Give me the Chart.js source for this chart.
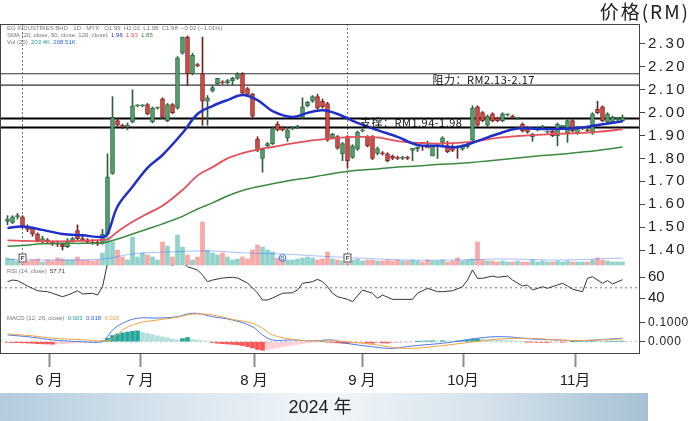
<!DOCTYPE html>
<html>
<head>
<meta charset="utf-8">
<script src="https://cdn.jsdelivr.net/npm/chart.js"></script>
<style>
  html, body { margin: 0; padding: 0; background: #fff; }
  #wrap { position: relative; width: 690px; height: 421px; }
  #band { position: absolute; left: 0; top: 393px; width: 648px; height: 28px;
          background: linear-gradient(to right, #b3cbdd 0%, #d6e3ed 25%, #f2f6f9 50%, #d5e2ec 75%, #a6c0d3 100%); }
  #c { position: absolute; left: 0; top: 0; }
</style>
</head>
<body>
<div id="wrap"><div id="band"></div><canvas id="c" width="690" height="421"></canvas></div>
<script>
// daily candles, index 0 = late May 2024
const opens = [
  1.525,1.52,1.545,1.545,1.50,1.495,1.47,1.435,1.445,1.435,
  1.43,1.425,1.415,1.44,1.485,1.45,1.445,1.435,1.435,1.43,
  1.47,1.735,1.965,1.945,1.94,1.96,2.03,2.03,2.035,1.96,
  2.02,2.06,1.965,2.035,2.02,2.26,2.33,2.17,2.21,2.17,
  2.05,2.095,2.125,2.135,2.13,2.14,2.15,2.17,2.105,2.08,
  1.885,1.80,1.855,1.865,1.95,1.935,1.89,1.93,1.935,1.98,
  2.03,2.05,2.07,2.05,2.04,1.89,1.895,1.82,1.895,1.805,
  1.84,1.92,1.895,1.895,1.822,1.825,1.82,1.81,1.805,1.80,
  1.805,1.835,1.84,1.87,1.85,1.81,1.855,1.87,1.855,1.85,
  1.85,1.84,1.85,1.88,2.025,2.00,1.945,1.995,1.975,1.965,
  1.99,1.985,1.975,1.95,1.935,1.895,1.925,1.935,1.915,1.92,
  1.90,1.94,1.91,1.965,1.91,1.93,1.925,1.91,2.015,2.025,
  1.96,1.96,1.975,1.965
];
const highs = [
  1.55,1.55,1.56,1.55,1.51,1.50,1.475,1.46,1.45,1.44,
  1.44,1.43,1.45,1.455,1.51,1.46,1.45,1.445,1.44,1.49,
  1.82,2.07,1.975,1.95,1.955,2.10,2.035,2.035,2.04,2.025,
  2.025,2.065,2.04,2.04,2.245,2.33,2.335,2.26,2.215,2.33,
  2.075,2.12,2.15,2.14,2.145,2.155,2.175,2.175,2.11,2.085,
  1.895,1.845,1.87,1.94,1.96,1.94,1.935,1.94,1.945,2.065,
  2.05,2.075,2.08,2.06,2.045,1.91,1.90,1.87,1.90,1.86,
  1.92,1.93,1.90,1.90,1.85,1.83,1.825,1.815,1.81,1.81,
  1.81,1.84,1.85,1.855,1.875,1.855,1.86,1.895,1.875,1.86,
  1.855,1.86,1.865,2.03,2.03,2.005,1.99,2.00,1.98,2.00,
  1.995,1.99,1.98,1.955,1.94,1.91,1.935,1.945,1.92,1.925,
  1.955,1.945,1.97,1.97,1.94,1.935,1.93,2.00,2.05,2.03,
  2.00,1.985,1.98,1.99
];
const lows = [
  1.51,1.515,1.535,1.495,1.48,1.46,1.435,1.43,1.43,1.42,
  1.415,1.40,1.41,1.435,1.445,1.44,1.43,1.425,1.42,1.425,
  1.465,1.73,1.94,1.93,1.925,1.955,2.025,2.025,1.99,1.955,
  2.015,1.975,1.96,1.995,2.015,2.255,2.12,2.165,2.20,1.945,
  1.945,2.09,2.12,2.125,2.125,2.12,2.145,2.08,2.075,1.97,
  1.83,1.74,1.85,1.86,1.92,1.92,1.875,1.925,1.93,1.975,
  2.025,2.045,2.015,2.02,1.875,1.885,1.84,1.79,1.76,1.80,
  1.835,1.915,1.85,1.795,1.815,1.815,1.785,1.795,1.795,1.795,
  1.795,1.79,1.83,1.835,1.86,1.84,1.80,1.85,1.825,1.83,
  1.80,1.835,1.845,1.875,1.94,1.96,1.94,1.96,1.96,1.96,
  1.985,1.975,1.97,1.915,1.91,1.875,1.92,1.93,1.91,1.895,
  1.855,1.935,1.87,1.915,1.905,1.925,1.915,1.905,1.995,1.96,
  1.955,1.955,1.965,1.96
];
const closes = [
  1.535,1.545,1.55,1.50,1.49,1.47,1.44,1.45,1.435,1.43,
  1.425,1.415,1.44,1.45,1.45,1.445,1.435,1.43,1.425,1.47,
  1.72,1.98,1.945,1.94,1.945,2.03,2.03,2.03,1.995,2.02,
  2.02,1.98,2.035,2.00,2.24,2.33,2.17,2.25,2.205,2.05,
  2.065,2.11,2.15,2.13,2.14,2.15,2.17,2.085,2.08,1.985,
  1.835,1.84,1.865,1.93,1.925,1.925,1.925,1.935,1.935,2.025,
  2.045,2.07,2.02,2.025,1.88,1.905,1.845,1.865,1.79,1.855,
  1.915,1.925,1.855,1.80,1.843,1.82,1.79,1.80,1.80,1.805,
  1.80,1.845,1.85,1.865,1.845,1.855,1.855,1.89,1.83,1.835,
  1.848,1.855,1.86,2.02,1.945,1.965,1.985,1.965,1.965,1.995,
  1.99,1.98,1.975,1.92,1.915,1.905,1.93,1.94,1.915,1.90,
  1.95,1.94,1.965,1.92,1.935,1.93,1.92,1.995,2.00,1.965,
  1.995,1.98,1.975,1.98
];
// volume, thousand shares
const volumes = [
  210,180,120,150,120,150,180,90,150,120,
  210,180,150,150,240,150,150,120,150,360,
  840,690,450,240,150,840,240,360,300,240,
  150,690,570,240,900,540,300,150,240,1290,
  450,360,300,360,240,150,180,240,180,450,
  600,540,450,390,210,150,150,150,180,210,
  240,210,150,180,390,180,150,120,150,150,
  180,120,150,150,120,120,150,120,150,120,
  120,150,120,90,150,120,120,150,90,120,
  210,120,150,180,690,150,120,120,90,120,
  90,90,120,90,90,150,90,120,90,90,
  120,90,120,90,90,90,90,150,210,150,
  120,90,90,90
];
const volMaIdx = [0,10,19,25,32,40,48,55,62,70,80,90,100,110,123];
const volMa = [165,150,180,330,390,420,360,330,270,210,150,150,180,150,210];

// moving averages read at sample bars
const maIdx = [0,3,7,11,15,19,20,22,25,28,31,35,38,41,44,47,50,53,57,60,63,66,70,74,78,82,86,90,94,98,102,106,110,114,118,123];
const ma20 = [1.496,1.503,1.488,1.470,1.464,1.457,1.470,1.590,1.676,1.759,1.815,1.911,1.994,2.029,2.055,2.077,2.055,2.007,1.981,1.999,2.010,1.994,1.955,1.924,1.894,1.859,1.855,1.850,1.876,1.907,1.931,1.929,1.929,1.933,1.946,1.962];
const ma50 = [1.442,1.440,1.438,1.438,1.440,1.444,1.446,1.480,1.523,1.559,1.593,1.662,1.725,1.762,1.800,1.823,1.839,1.850,1.866,1.876,1.883,1.890,1.894,1.892,1.876,1.868,1.865,1.868,1.876,1.890,1.898,1.903,1.907,1.911,1.916,1.927];
const ma120 = [1.416,1.420,1.427,1.429,1.429,1.431,1.435,1.448,1.470,1.492,1.514,1.547,1.579,1.606,1.636,1.660,1.676,1.689,1.706,1.715,1.726,1.737,1.748,1.754,1.763,1.767,1.774,1.778,1.785,1.793,1.802,1.811,1.817,1.826,1.835,1.850];

const rsiIdx = [0,1,2,4,5,6,8,9,11,12,13,14,15,17,18,19,20,21,22,24,26,28,30,31,33,35,36,38,39,40,41,43,45,46,48,50,51,52,53,55,57,58,59,61,62,63,64,65,66,67,68,69,71,72,73,74,75,77,79,81,82,83,84,86,87,89,91,92,93,94,95,97,98,100,101,103,104,105,107,108,110,111,112,113,115,116,117,119,120,121,123];
const rsi = [55.8,57.4,56.8,51.7,49.5,47.2,46.3,44.8,41.5,43.1,45,47.2,44.1,44.8,43.1,51,73.3,78,84,83,86,82,80,73.6,71.7,74.6,70,67,62.2,55.8,57.4,59.3,60,59.3,54.6,45,38.4,38.4,40.3,44.8,45.3,47.9,54.3,55.8,58.1,55.8,51,44.8,41.5,40.3,39,36.8,47.9,46.3,44.8,40,43.1,39,39,39,44.8,47.2,49.5,46.3,46.3,47.2,51,57.4,67,59,59,61.2,60,61.2,57.4,51.7,52.7,47.9,51,49.5,52.7,54.3,51.7,48.6,46.3,59,60.6,54.3,56.8,53.6,57.7];

const macdIdx = [0,5,9,15,19,20,21,23,26,30,34,36,38,41,45,49,51,53,57,61,65,67,74,77,81,88,94,99,105,110,115,123];
const macdLine = [0.035,0.023,0.009,0.000,0.000,0.026,0.060,0.095,0.121,0.122,0.129,0.143,0.146,0.129,0.112,0.077,0.035,0.009,0.009,0.004,0.009,-0.005,-0.029,-0.034,-0.022,-0.005,0.018,0.026,0.014,0.009,0.006,0.018];
const signalLine = [0.040,0.030,0.018,0.010,0.003,0.006,0.015,0.060,0.095,0.112,0.126,0.138,0.143,0.138,0.115,0.095,0.069,0.035,0.012,0.004,0.005,0.002,-0.017,-0.029,-0.034,-0.017,0.002,0.015,0.017,0.009,0.006,0.015];
const macdHist = [
  -0.003,-0.004,-0.005,-0.006,-0.007,-0.008,-0.010,-0.011,-0.012,-0.013,
  -0.012,-0.010,-0.009,-0.007,-0.006,-0.005,-0.004,-0.003,-0.002,0.004,
  0.018,0.032,0.040,0.046,0.050,0.054,0.056,0.048,0.042,0.036,
  0.030,0.025,0.020,0.014,0.010,0.016,0.022,0.012,0.008,0.005,
  0.003,-0.004,-0.008,-0.010,-0.012,-0.014,-0.016,-0.020,-0.025,-0.032,
  -0.040,-0.044,-0.040,-0.035,-0.030,-0.026,-0.022,-0.018,-0.014,-0.010,
  -0.006,-0.003,-0.001,0.001,-0.002,-0.004,-0.006,-0.008,-0.010,-0.008,
  -0.006,-0.005,-0.006,-0.008,-0.006,-0.006,-0.007,-0.006,-0.005,-0.004,
  -0.003,-0.002,0.001,0.003,0.004,0.005,0.004,0.005,0.004,0.003,
  0.004,0.006,0.008,0.012,0.014,0.012,0.010,0.009,0.008,0.007,
  0.006,0.005,0.003,0.001,-0.001,-0.002,-0.003,-0.003,-0.004,-0.003,
  -0.002,-0.002,-0.001,0.001,0.002,0.003,0.004,0.004,0.003,0.002,
  0.003,0.003,0.003,0.003
];

const resistance = [2.12, 2.17];
const support = [1.935, 1.975];
const eventIdx = [3, 68];

const priceTicks = [1.4, 1.5, 1.6, 1.7, 1.8, 1.9, 2.0, 2.1, 2.2, 2.3];
const rsiTicks = [40, 60];
const macdTicks = [0, 0.1];
const macdTickLabels = ['0.000', '0.1000'];
const monthTicks = [8.3, 26.5, 49.3, 70.9, 91.1, 113.5];
const monthLabels = ['6 月', '7 月', '8 月', '9 月', '10月', '11月'];

// axis ranges
const xMin = -1.5, xMax = 126.5;
const priceMin = 1.3345, priceMax = 2.3873;
const rsiMin = 31.71, rsiMax = 71.71;
const macdMin = -0.0582, macdMax = 0.1789;
const volMin = -2640, volMax = 7230;

const CJK = '"Noto Sans CJK SC", sans-serif';
Chart.defaults.font.family = '"Liberation Sans", "Noto Sans CJK SC", sans-serif';
Chart.defaults.color = '#222';

const GREEN = '#54a06b', GREEN_EDGE = '#2b6840';
const RED = '#d44b46', RED_EDGE = '#7e2724';

const bars = closes.map((c, i) => i);
const up = closes.map((c, i) => c >= opens[i]);
const histColors = macdHist.map((v, i) => {
  const prev = i ? macdHist[i - 1] : 0;
  if (v >= 0) return v >= prev ? '#26a69a' : '#b2dfdb';
  return v <= prev ? '#ff5252' : '#ffcdd2';
});

const pts = (ix, vals) => ix.map((x, k) => ({ x: x, y: vals[k] }));
const flat = v => [{ x: xMin, y: v }, { x: xMax, y: v }];
const line = (data, axis, color, width, extra) => Object.assign({
  type: 'line', data: data, yAxisID: axis, borderColor: color, borderWidth: width,
  pointRadius: 0, fill: false
}, extra || {});

const datasets = [
  { type: 'bar', data: bars.map(i => ({ x: i, y: volumes[i] })), yAxisID: 'yVol', barThickness: 4,
    backgroundColor: up.map(u => u ? 'rgba(38,166,154,0.5)' : 'rgba(239,83,80,0.5)'), order: 20 },
  line(pts(volMaIdx, volMa), 'yVol', 'rgba(41,98,255,0.4)', 1, { tension: 0.4, order: 19 }),
  ...resistance.map(v => line(flat(v), 'y', '#333', 1.2, { order: 15 })),
  ...support.map(v => line(flat(v), 'y', '#000', 2, { order: 15 })),
  ...eventIdx.map(e => line([{ x: e, y: priceMax }, { x: e, y: priceMin }], 'y', '#777', 1, { borderDash: [2, 2], order: 15 })),
  { type: 'bar', data: bars.map(i => ({ x: i, y: [lows[i], highs[i]] })), yAxisID: 'y', barThickness: 1,
    backgroundColor: up.map(u => u ? '#2f5f3e' : '#6e2522'), order: 10 },
  { type: 'bar', data: bars.map(i => ({ x: i, y: [opens[i], closes[i]] })), yAxisID: 'y', barThickness: 4,
    backgroundColor: up.map(u => u ? GREEN : RED), borderColor: up.map(u => u ? GREEN_EDGE : RED_EDGE),
    borderWidth: 1, borderSkipped: false, minBarLength: 1, order: 9 },
  line(pts(maIdx, ma120), 'y', '#3b8a3f', 1.5, { tension: 0.35, order: 3 }),
  line(pts(maIdx, ma50), 'y', '#e4515b', 1.8, { tension: 0.35, order: 2 }),
  line(pts(maIdx, ma20), 'y', '#1f2fc8', 2.5, { tension: 0.35, order: 1 }),
  line(flat(50), 'yRsi', '#777', 1, { borderDash: [2, 3], order: 6 }),
  line(pts(rsiIdx, rsi), 'yRsi', '#333', 1, { order: 5, pane: 6 }),
  line(flat(0), 'yMacd', '#bbb', 1, { borderDash: [2, 3], order: 8 }),
  { type: 'bar', data: bars.map(i => ({ x: i, y: macdHist[i] })), yAxisID: 'yMacd', barThickness: 4,
    backgroundColor: histColors, order: 7 },
  line(pts(macdIdx, signalLine), 'yMacd', '#f3a043', 1, { tension: 0.4, order: 4 }),
  line(pts(macdIdx, macdLine), 'yMacd', '#4a78e8', 1, { tension: 0.4, order: 4 })
];

// clip a pane's series to its own stacked axis
const paneClip = {
  id: 'paneClip',
  beforeDatasetDraw(chart, args) {
    const ds = chart.data.datasets[args.index];
    if (ds.pane === undefined) return;
    const s = chart.scales[ds.yAxisID], a = chart.chartArea, ctx = chart.ctx;
    ctx.save();
    ctx.beginPath();
    ctx.rect(a.left, s.top - ds.pane, a.right - a.left, s.bottom - s.top + ds.pane);
    ctx.clip();
  },
  afterDatasetDraw(chart, args) {
    if (chart.data.datasets[args.index].pane !== undefined) chart.ctx.restore();
  }
};

// wider tracking on some labels (price ticks, macd ticks, title)
const tickSpacing = { y: '2.5px', yMacd: '0.7px' };
function spaced(chart, obj, method, spacing) {
  if (!obj || obj._spaced) return;
  const orig = obj[method].bind(obj);
  obj[method] = area => {
    chart.ctx.letterSpacing = spacing;
    orig(area);
    chart.ctx.letterSpacing = '0px';
  };
  obj._spaced = true;
}
const spacingPlugin = {
  id: 'spacing',
  beforeDraw(chart) {
    for (const id in tickSpacing) spaced(chart, chart.scales[id], 'drawLabels', tickSpacing[id]);
    spaced(chart, chart.titleBlock, 'draw', '2px');
  }
};

function runs(ctx, x, y, parts) {
  for (const p of parts) {
    ctx.fillStyle = p[1];
    ctx.fillText(p[0], x, y);
    x += ctx.measureText(p[0]).width;
  }
}

const overlay = {
  id: 'overlay',
  afterDraw(chart) {
    const ctx = chart.ctx, a = chart.chartArea;
    const xs = chart.scales.x, ys = chart.scales.y;
    ctx.save();
    ctx.strokeStyle = '#444';
    ctx.lineWidth = 1;
    ctx.strokeRect(a.left + 0.5, a.top + 0.5, a.right - a.left - 1, a.bottom - a.top);

    // indicator captions
    ctx.font = '6px "Liberation Sans", sans-serif';
    ctx.textBaseline = 'middle';
    runs(ctx, 7, 28, [['EG INDUSTRIES BHD · 1D · MYX   O1.99  H2.02  L1.95  C1.98  −0.02 (−1.01%)', '#777']]);
    runs(ctx, 7, 35, [['SMA (20, close, 50, close, 120, close)  ', '#777'], ['1.96  ', '#1f2fc8'], ['1.93  ', '#e4515b'], ['1.85', '#3b8a3f']]);
    runs(ctx, 7, 42, [['Vol (20)  ', '#777'], ['203.4K  ', '#26a69a'], ['208.51K', '#2962ff']]);
    runs(ctx, 7, 271, [['RSI (14, close)  ', '#777'], ['57.71', '#333']]);
    runs(ctx, 7, 318, [['MACD (12, 26, close)  ', '#777'], ['0.003  ', '#26a69a'], ['0.018  ', '#2962ff'], ['0.015', '#f3a043']]);

    // event flags along the bottom of the price pane
    const flagY = ys.bottom - 7;
    ctx.font = 'bold 6px "Liberation Sans", sans-serif';
    ctx.textAlign = 'center';
    for (const e of eventIdx) {
      const px = xs.getPixelForValue(e);
      ctx.fillStyle = '#fff';
      ctx.fillRect(px - 4, flagY - 4.5, 8, 9);
      ctx.strokeStyle = '#555';
      ctx.strokeRect(px - 3.5, flagY - 4, 7, 8);
      ctx.fillStyle = '#333';
      ctx.fillText('F', px, flagY + 0.5);
    }
    const dx = xs.getPixelForValue(55);
    ctx.strokeStyle = '#4a78e8';
    ctx.beginPath();
    ctx.arc(dx, flagY, 3.5, 0, Math.PI * 2);
    ctx.stroke();
    ctx.fillStyle = '#4a78e8';
    ctx.fillText('D', dx, flagY + 0.5);

    // support / resistance captions
    ctx.textAlign = 'left';
    ctx.font = '11px ' + CJK;
    ctx.letterSpacing = '0.5px';
    ctx.fillStyle = '#111';
    ctx.fillText('阻力：RM2.13-2.17', xs.getPixelForValue(85), ys.getPixelForValue((resistance[0] + resistance[1]) / 2));
    ctx.fillText('支撑：RM1.94-1.98', xs.getPixelForValue(70.5), ys.getPixelForValue((support[0] + support[1]) / 2));
    ctx.letterSpacing = '0px';
    ctx.restore();
  }
};

const rightTicks = { drawOnChartArea: false, tickLength: 5, tickColor: '#444', tickWidth: 1 };

new Chart(document.getElementById('c'), {
  type: 'bar',
  data: { datasets: datasets },
  options: {
    responsive: false,
    animation: false,
    devicePixelRatio: 1,
    events: [],
    layout: { padding: 0 },
    datasets: { bar: { grouped: false } },
    plugins: {
      legend: { display: false },
      tooltip: { enabled: false },
      title: {
        display: true, text: '价格(RM)', align: 'end', color: '#222',
        font: { size: 19, family: CJK, weight: 'normal', lineHeight: 24 / 19 },
        padding: { top: 0, bottom: 0 }
      }
    },
    scales: {
      x: {
        type: 'linear', position: 'bottom', min: xMin, max: xMax, bounds: 'data', offset: false,
        afterBuildTicks: s => { s.ticks = monthTicks.map(v => ({ value: v })); },
        ticks: { callback: (v, i) => monthLabels[i], autoSkip: false, maxRotation: 0, font: { size: 15 }, color: '#222', padding: 5 },
        grid: { offset: false, drawOnChartArea: false, tickLength: 14, tickColor: '#8c8c8c', tickWidth: 2 },
        border: { display: false },
        title: { display: true, text: '2024 年', color: '#222', font: { size: 18 }, padding: { top: 0, bottom: 2 } },
        afterFit: s => { s.height = 68; }
      },
      y: {
        type: 'linear', position: 'right', stack: 'panes', stackWeight: 241,
        min: priceMin, max: priceMax, bounds: 'data',
        afterBuildTicks: s => { s.ticks = priceTicks.map(v => ({ value: v })); },
        ticks: { callback: v => v.toFixed(2), autoSkip: false, font: { size: 15 }, color: '#222', padding: 3 },
        grid: rightTicks, border: { display: false },
        afterFit: s => { s.width = 50; }
      },
      yRsi: {
        type: 'linear', position: 'right', stack: 'panes', stackWeight: 42,
        min: rsiMin, max: rsiMax, bounds: 'data',
        afterBuildTicks: s => { s.ticks = rsiTicks.map(v => ({ value: v })); },
        ticks: { callback: v => String(v), autoSkip: false, font: { size: 15 }, color: '#222', padding: 3 },
        grid: rightTicks, border: { display: false },
        afterFit: s => { s.width = 50; }
      },
      yMacd: {
        type: 'linear', position: 'right', stack: 'panes', stackWeight: 46,
        min: macdMin, max: macdMax, bounds: 'data',
        afterBuildTicks: s => { s.ticks = macdTicks.map(v => ({ value: v })); },
        ticks: { callback: (v, i) => macdTickLabels[i], autoSkip: false, font: { size: 12 }, color: '#222', padding: 3 },
        grid: rightTicks, border: { display: false },
        afterFit: s => { s.width = 50; }
      },
      yVol: {
        type: 'linear', position: 'left', display: false, min: volMin, max: volMax, bounds: 'data'
      }
    }
  },
  plugins: [paneClip, spacingPlugin, overlay]
});
</script>
</body>
</html>
